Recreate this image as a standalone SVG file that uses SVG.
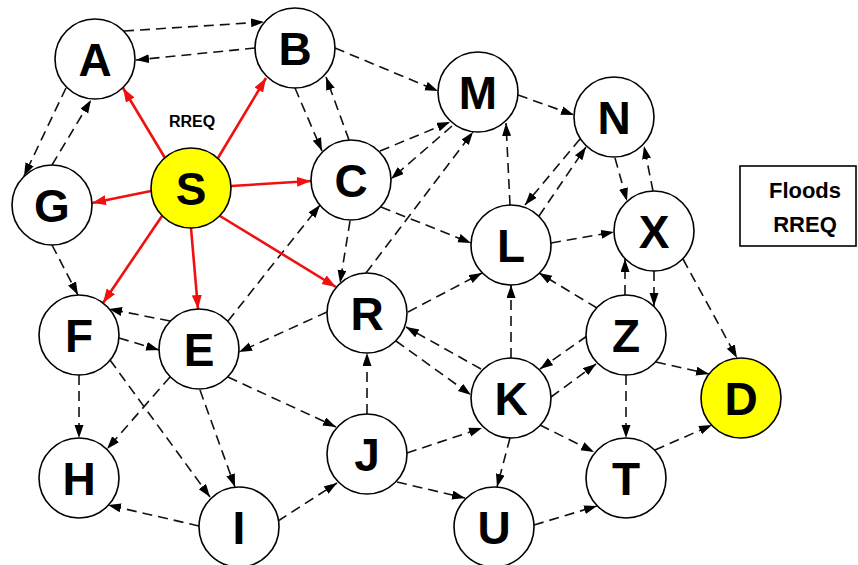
<svg xmlns="http://www.w3.org/2000/svg" width="858" height="565" viewBox="0 0 858 565">
<style>
.n{fill:#fff;stroke:#000;stroke-width:1.6}
.y{fill:#ffff00}
.t{font-family:"Liberation Sans",Arial,sans-serif;font-weight:bold;font-size:46px;text-anchor:middle;fill:#000}
.d{stroke:#111;stroke-width:1.6;stroke-dasharray:10 6;fill:none;marker-end:url(#ab)}
.r{stroke:#f01010;stroke-width:2.6;fill:none;marker-end:url(#ar)}
.lb{font-family:"Liberation Sans",Arial,sans-serif;font-weight:bold;text-anchor:middle;fill:#000}
</style>
<defs>
<marker id="ab" markerUnits="userSpaceOnUse" markerWidth="14" markerHeight="10" refX="13" refY="4.5" orient="auto"><path d="M0,0 L13,4.5 L0,9 Z" fill="#000"/></marker>
<marker id="ar" markerUnits="userSpaceOnUse" markerWidth="16" markerHeight="12" refX="14" refY="5" orient="auto"><path d="M0,0 L14,5 L0,10 Z" fill="#f01010"/></marker>
</defs>
<rect width="858" height="565" fill="#fff"/>
<g id="connectors">
<line class="d" x1="124" y1="31" x2="264" y2="22"/>
<line class="d" x1="255" y1="48" x2="136" y2="60"/>
<line class="d" x1="66" y1="88" x2="24" y2="176"/>
<line class="d" x1="52" y1="165" x2="91" y2="100"/>
<line class="d" x1="335" y1="48" x2="438" y2="91"/>
<line class="d" x1="295" y1="88" x2="322" y2="151"/>
<line class="d" x1="349" y1="140" x2="326" y2="77"/>
<line class="d" x1="380" y1="151" x2="450" y2="122"/>
<line class="d" x1="452" y1="126" x2="391" y2="179"/>
<line class="d" x1="518" y1="95" x2="574" y2="115"/>
<line class="d" x1="366" y1="273" x2="473" y2="132"/>
<line class="d" x1="510" y1="205" x2="506" y2="123"/>
<line class="d" x1="580" y1="139" x2="525" y2="205"/>
<line class="d" x1="539" y1="216" x2="586" y2="147"/>
<line class="d" x1="615" y1="158" x2="627" y2="201"/>
<line class="d" x1="653" y1="191" x2="644" y2="146"/>
<line class="d" x1="381" y1="207" x2="471" y2="243"/>
<line class="d" x1="551" y1="243" x2="614" y2="232"/>
<line class="d" x1="350" y1="221" x2="340" y2="283"/>
<line class="d" x1="228" y1="321" x2="320" y2="205"/>
<line class="d" x1="327" y1="312" x2="239" y2="352"/>
<line class="d" x1="408" y1="312" x2="482" y2="273"/>
<line class="d" x1="481" y1="369" x2="406" y2="327"/>
<line class="d" x1="396" y1="341" x2="471" y2="395"/>
<line class="d" x1="511" y1="358" x2="511" y2="285"/>
<line class="d" x1="597" y1="308" x2="539" y2="273"/>
<line class="d" x1="587" y1="336" x2="540" y2="369"/>
<line class="d" x1="551" y1="397" x2="596" y2="364"/>
<line class="d" x1="625" y1="295" x2="625" y2="259"/>
<line class="d" x1="654" y1="271" x2="654" y2="306"/>
<line class="d" x1="683" y1="259" x2="737" y2="358"/>
<line class="d" x1="656" y1="362" x2="709" y2="374"/>
<line class="d" x1="626" y1="375" x2="626" y2="438"/>
<line class="d" x1="540" y1="425" x2="594" y2="452"/>
<line class="d" x1="655" y1="450" x2="712" y2="425"/>
<line class="d" x1="534" y1="525" x2="597" y2="506"/>
<line class="d" x1="510" y1="438" x2="497" y2="487"/>
<line class="d" x1="397" y1="482" x2="465" y2="498"/>
<line class="d" x1="407" y1="453" x2="482" y2="428"/>
<line class="d" x1="367" y1="414" x2="367" y2="353"/>
<line class="d" x1="228" y1="377" x2="336" y2="427"/>
<line class="d" x1="278" y1="521" x2="337" y2="483"/>
<line class="d" x1="200" y1="390" x2="235" y2="487"/>
<line class="d" x1="110" y1="360" x2="210" y2="497"/>
<line class="d" x1="170" y1="377" x2="107" y2="449"/>
<line class="d" x1="79" y1="375" x2="79" y2="438"/>
<line class="d" x1="199" y1="526" x2="108" y2="505"/>
<line class="d" x1="170" y1="321" x2="109" y2="309"/>
<line class="d" x1="119" y1="338" x2="159" y2="350"/>
<line class="d" x1="52" y1="245" x2="78" y2="295"/>
<line class="r" x1="165" y1="158" x2="123" y2="88"/>
<line class="r" x1="218" y1="158" x2="266" y2="78"/>
<line class="r" x1="151" y1="191" x2="92" y2="203"/>
<line class="r" x1="231" y1="186" x2="311" y2="181"/>
<line class="r" x1="162" y1="216" x2="103" y2="303"/>
<line class="r" x1="191" y1="228" x2="198" y2="309"/>
<line class="r" x1="220" y1="216" x2="336" y2="287"/>
</g>
<text class="lb" x="192" y="127" font-size="16">RREQ</text>
<g id="A"><circle class="n" cx="95" cy="59" r="40"/><text class="t" x="95" y="76">A</text></g>
<g id="B"><circle class="n" cx="295" cy="48" r="40"/><text class="t" x="295" y="65">B</text></g>
<g id="M"><circle class="n" cx="478" cy="92" r="40"/><text class="t" x="478" y="109">M</text></g>
<g id="N"><circle class="n" cx="614" cy="117" r="40"/><text class="t" x="614" y="134">N</text></g>
<g id="C"><circle class="n" cx="351" cy="180" r="40"/><text class="t" x="351" y="197">C</text></g>
<g id="S"><circle class="n y" cx="191" cy="188" r="40"/><text class="t" x="191" y="205">S</text></g>
<g id="G"><circle class="n" cx="52" cy="205" r="40"/><text class="t" x="52" y="222">G</text></g>
<g id="L"><circle class="n" cx="511" cy="245" r="40"/><text class="t" x="511" y="262">L</text></g>
<g id="X"><circle class="n" cx="654" cy="231" r="40"/><text class="t" x="654" y="248">X</text></g>
<g id="F"><circle class="n" cx="79" cy="335" r="40"/><text class="t" x="79" y="352">F</text></g>
<g id="E"><circle class="n" cx="199" cy="349" r="40"/><text class="t" x="199" y="366">E</text></g>
<g id="R"><circle class="n" cx="367" cy="313" r="40"/><text class="t" x="367" y="330">R</text></g>
<g id="Z"><circle class="n" cx="626" cy="335" r="40"/><text class="t" x="626" y="352">Z</text></g>
<g id="K"><circle class="n" cx="511" cy="398" r="40"/><text class="t" x="511" y="415">K</text></g>
<g id="D"><circle class="n y" cx="741" cy="398" r="40"/><text class="t" x="741" y="415">D</text></g>
<g id="H"><circle class="n" cx="79" cy="478" r="40"/><text class="t" x="79" y="495">H</text></g>
<g id="J"><circle class="n" cx="367" cy="454" r="40"/><text class="t" x="367" y="471">J</text></g>
<g id="T"><circle class="n" cx="626" cy="478" r="40"/><text class="t" x="626" y="495">T</text></g>
<g id="I"><circle class="n" cx="239" cy="527" r="40"/><text class="t" x="239" y="544">I</text></g>
<g id="U"><circle class="n" cx="494" cy="527" r="40"/><text class="t" x="494" y="544">U</text></g>
<g id="legend">
<rect x="740" y="166" width="116" height="80" fill="#fff" stroke="#000" stroke-width="1.6"/>
<text class="lb" x="805" y="198" font-size="22">Floods</text>
<text class="lb" x="805" y="232" font-size="22">RREQ</text>
</g>
</svg>
